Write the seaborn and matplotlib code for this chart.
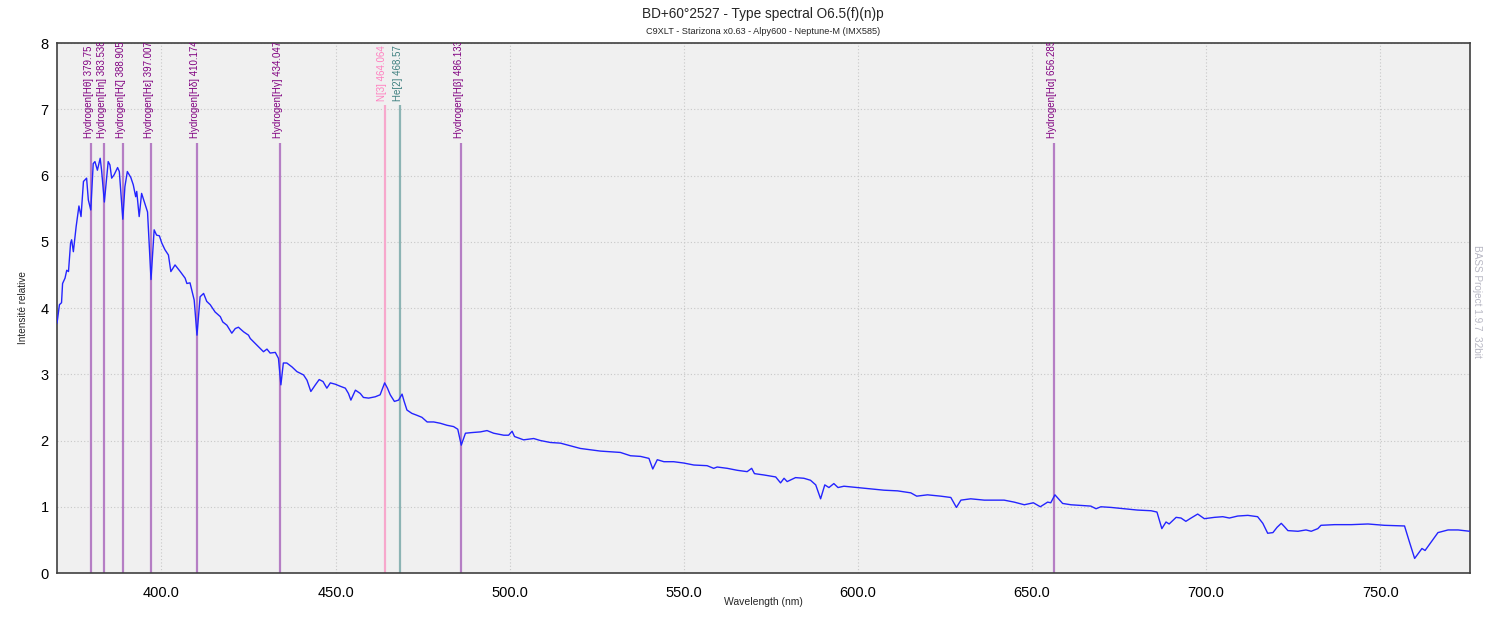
import matplotlib
matplotlib.use("Agg")
import matplotlib.pyplot as plt
import seaborn as sns
import pandas as pd

# ---------------- data ----------------
wavelength = [370.0, 370.7, 371.3, 371.6, 372.3, 372.8, 373.3, 373.9, 374.2, 374.7,
              375.5, 376.3, 376.9, 377.6, 378.5, 379.0, 379.7, 380.4, 380.9, 381.6,
              382.4, 382.8, 383.6, 384.7, 385.2, 385.7, 386.4, 387.4, 387.9, 388.9,
              389.5, 390.2, 391.2, 391.9, 392.6, 392.9, 393.6, 394.3, 395.1, 396.0,
              397.0, 397.9, 398.6, 399.4, 400.1, 401.0, 402.0, 402.7, 403.9, 405.4,
              406.8, 407.3, 408.2, 409.4, 410.2, 411.1, 412.1, 413.0, 414.0, 415.4,
              416.9, 417.6, 418.8, 420.2, 421.2, 422.1, 423.6, 425.0, 425.5, 427.4,
              429.3, 430.3, 431.2, 432.7, 433.6, 434.3, 435.0, 436.0, 437.5, 438.9,
              440.8, 441.8, 442.9, 444.2, 445.3, 446.4, 447.5, 448.5, 449.9, 451.3,
              452.8, 453.7, 454.4, 455.7, 457.1, 458.0, 459.5, 461.4, 462.8, 464.1,
              464.9, 465.7, 466.9, 468.1, 469.1, 469.7, 470.5, 471.9, 473.4, 474.8,
              476.3, 478.2, 480.1, 482.0, 483.9, 485.1, 486.1, 487.3, 489.2, 491.6,
              493.5, 495.4, 498.3, 499.7, 500.7, 501.4, 504.0, 506.9, 508.8, 511.7,
              514.6, 520.3, 526.1, 529.0, 531.8, 534.7, 537.6, 540.0, 541.1, 542.4,
              544.3, 547.1, 550.0, 552.9, 556.7, 558.6, 559.6, 562.5, 565.4, 568.2,
              569.5, 570.3, 573.0, 576.4, 577.8, 578.8, 579.7, 582.1, 584.5, 586.4,
              587.9, 589.3, 590.5, 591.7, 593.1, 594.3, 596.0, 599.9, 603.7, 607.5,
              611.4, 615.2, 616.9, 620.0, 623.8, 626.7, 628.3, 629.6, 632.4, 636.3,
              642.0, 644.9, 647.8, 650.4, 652.4, 654.5, 655.4, 656.6, 658.8, 661.2,
              664.0, 666.9, 668.4, 669.8, 672.7, 676.5, 680.3, 684.2, 685.9, 687.3,
              688.5, 689.4, 691.4, 692.8, 694.2, 695.7, 697.6, 699.5, 702.4, 704.8,
              706.7, 709.1, 712.0, 714.8, 716.3, 717.7, 719.2, 720.4, 721.6, 722.5,
              723.5, 726.4, 728.7, 730.2, 732.1, 733.0, 736.9, 741.7, 746.5, 751.2,
              757.0, 758.4, 759.9, 761.3, 762.0, 762.9, 764.7, 766.6, 769.5, 772.4,
              775.7]
intensity = [3.77, 4.05, 4.08, 4.37, 4.45, 4.57, 4.55, 4.98, 5.03, 4.85,
             5.23, 5.54, 5.38, 5.91, 5.96, 5.63, 5.48, 6.18, 6.21, 6.08,
             6.26, 6.08, 5.60, 6.21, 6.16, 5.96, 6.01, 6.12, 6.06, 5.34,
             5.83, 6.06, 5.97, 5.86, 5.68, 5.76, 5.38, 5.73, 5.60, 5.45,
             4.43, 5.18, 5.10, 5.09, 4.98, 4.88, 4.80, 4.55, 4.65, 4.55,
             4.45, 4.37, 4.38, 4.12, 3.59, 4.17, 4.22, 4.10, 4.05, 3.94,
             3.87, 3.79, 3.74, 3.62, 3.69, 3.71, 3.64, 3.59, 3.54, 3.44,
             3.34, 3.38, 3.32, 3.33, 3.24, 2.84, 3.17, 3.17, 3.11, 3.04,
             2.99, 2.91, 2.74, 2.84, 2.92, 2.89, 2.79, 2.87, 2.85, 2.82,
             2.79, 2.71, 2.61, 2.76, 2.71, 2.65, 2.64, 2.66, 2.69, 2.87,
             2.79, 2.69, 2.59, 2.61, 2.70, 2.59, 2.46, 2.41, 2.38, 2.35,
             2.28, 2.28, 2.26, 2.23, 2.21, 2.17, 1.93, 2.11, 2.12, 2.13,
             2.15, 2.11, 2.08, 2.08, 2.14, 2.06, 2.01, 2.03, 2.00, 1.97,
             1.96, 1.88, 1.84, 1.83, 1.82, 1.77, 1.76, 1.73, 1.57, 1.71,
             1.68, 1.68, 1.66, 1.63, 1.62, 1.58, 1.60, 1.58, 1.55, 1.53,
             1.58, 1.50, 1.48, 1.45, 1.36, 1.43, 1.38, 1.44, 1.43, 1.40,
             1.33, 1.12, 1.33, 1.29, 1.35, 1.29, 1.31, 1.29, 1.27, 1.25,
             1.24, 1.21, 1.16, 1.18, 1.16, 1.14, 0.99, 1.10, 1.12, 1.10,
             1.10, 1.07, 1.03, 1.06, 1.00, 1.07, 1.06, 1.18, 1.05, 1.03,
             1.02, 1.01, 0.97, 1.00, 0.99, 0.97, 0.95, 0.94, 0.92, 0.67,
             0.77, 0.74, 0.84, 0.83, 0.78, 0.83, 0.89, 0.82, 0.84, 0.85,
             0.83, 0.86, 0.87, 0.85, 0.75, 0.60, 0.61, 0.69, 0.75, 0.70,
             0.64, 0.63, 0.65, 0.63, 0.67, 0.72, 0.73, 0.73, 0.74, 0.72,
             0.71, 0.47, 0.22, 0.32, 0.37, 0.34, 0.47, 0.61, 0.65, 0.65,
             0.63]

line_names = ["Hydrogen[Hθ]", "Hydrogen[Hη]", "Hydrogen[Hζ]", "Hydrogen[Hε]",
              "Hydrogen[Hδ]", "Hydrogen[Hγ]", "N[3]", "He[2]", "Hydrogen[Hβ]",
              "Hydrogen[Hα]"]
line_wavelengths = [379.75, 383.538, 388.905, 397.007, 410.174, 434.047,
                    464.064, 468.57, 486.133, 656.285]
line_labels = ["379.75", "383.538", "388.905", "397.007", "410.174", "434.047",
               "464.064", "468.57", "486.133", "656.285"]
line_element = ["H", "H", "H", "H", "H", "H", "N", "He", "H", "H"]

x_ticks = [400, 450, 500, 550, 600, 650, 700, 750]
x_tick_labels = ["400.0", "450.0", "500.0", "550.0", "600.0", "650.0", "700.0", "750.0"]
y_ticks = [0, 1, 2, 3, 4, 5, 6, 7, 8]

# ---------------- style ----------------
sns.set_style("white")
plt.rcParams["font.family"] = ["Liberation Sans", "DejaVu Sans"]

styles = {
    "H": dict(text="#800080", line="#B57EC4", top=6.49),
    "N": dict(text="#FF80C0", line="#F7A8CC", top=7.06),
    "He": dict(text="#3F8080", line="#8CB4B4", top=7.06),
}

fig = plt.figure(figsize=(15, 6.17), dpi=100)
ax = fig.add_axes([0.038, 0.0713, 0.942, 0.859])
ax.set_facecolor("#F0F0F0")

df = pd.DataFrame({"wavelength": wavelength, "intensity": intensity})

# identification lines
for name, wl, lab, el in zip(line_names, line_wavelengths, line_labels, line_element):
    st = styles[el]
    ax.vlines(wl, 0, st["top"], colors=st["line"], linewidth=1.6, zorder=2)
    ax.text(wl - 0.6, st["top"] + 0.07, f"{name} {lab}", rotation=90,
            ha="center", va="bottom", fontsize=7.0, color=st["text"],
            clip_on=True, zorder=3)

sns.lineplot(data=df, x="wavelength", y="intensity", ax=ax, color="#2424FF",
             linewidth=1.0, zorder=4, estimator=None, sort=False)

ax.set_xlim(370, 775.8)
ax.set_ylim(0, 8)
ax.set_xticks(x_ticks)
ax.set_xticklabels(x_tick_labels)
ax.set_yticks(y_ticks)
ax.grid(True, color="#C8C8C8", linestyle=(0, (1, 2)), linewidth=0.8, zorder=0)
ax.set_axisbelow(True)
ax.tick_params(axis="both", length=0, labelsize=10.5, colors="#000000")
ax.tick_params(axis="x", pad=9)
ax.tick_params(axis="y", pad=6)
for sp in ax.spines.values():
    sp.set_color("#404040")
    sp.set_linewidth(1.2)

ax.set_xlabel("Wavelength (nm)", fontsize=7.5, labelpad=-2)
ax.set_ylabel("Intensité relative", fontsize=7.2, labelpad=9)

fig.text(0.5087, 0.978, "BD+60°2527 - Type spectral O6.5(f)(n)p", ha="center",
         va="center", fontsize=9.8)
fig.text(0.5087, 0.949, "C9XLT - Starizona x0.63 - Alpy600 - Neptune-M (IMX585)",
         ha="center", va="center", fontsize=6.6)
fig.text(0.985, 0.512, "BASS Project 1.9.7  32bit", rotation=-90, ha="center",
         va="center", fontsize=7.2, color="#B8B8C4")

fig.savefig("out.png", dpi=100, facecolor="white")
